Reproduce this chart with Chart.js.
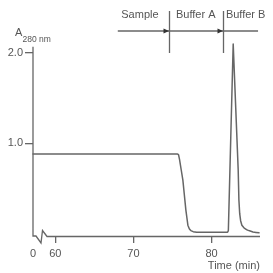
<!DOCTYPE html>
<html>
<head>
<meta charset="utf-8">
<script src="https://cdn.jsdelivr.net/npm/chart.js@4/dist/chart.umd.min.js"></script>
<style>
html,body{margin:0;padding:0;background:#fff;}
canvas{display:block;}
</style>
</head>
<body>
<canvas id="c" width="273" height="273"></canvas>
<script>
// ---- data ----
const timeMin = [57.15, 75.65, 75.78, 75.90, 76.33, 76.71, 76.97, 77.15, 77.35, 77.65, 78.10, 82.05, 82.15, 82.77, 83.41, 83.50, 83.60, 83.72, 83.88, 84.15, 84.60, 85.30, 86.07];
const a280    = [0.88,  0.88,  0.87,  0.82,  0.59,  0.26,  0.09,  0.05,  0.03,  0.018, 0.012, 0.012, 0.03,  2.10,  0.70,  0.37,  0.22,  0.14,  0.09,  0.06,  0.035, 0.015, 0.005];
const xTickValues = [57.15, 60, 70, 80];
const xTickLabels = ['0', '60', '70', '80'];
const yTickValues = [1.0, 2.0];
const phaseLabels = ['Sample', 'Buffer A', 'Buffer B'];
const phaseStart = 68.0;      // arrow start (min)
const phaseBoundaries = [74.5, 81.45];
const phaseEnd = 85.95;

const X_MIN = 57.15, X_MAX = 86.2, Y_MIN = -0.03, Y_MAX = 2.1;
const GRAY = '#666';
const TEXT = '#555';
const FONT = '"Liberation Sans", Arial, sans-serif';

const points = timeMin.map((t, i) => ({x: t, y: a280[i]}));

const decor = {
  id: 'decor',
  afterDraw(chart) {
    const ctx = chart.ctx;
    const xs = chart.scales.x, ys = chart.scales.y;
    const ca = chart.chartArea;
    ctx.save();
    ctx.strokeStyle = GRAY;
    ctx.lineWidth = 1.3;
    ctx.lineJoin = 'miter';
    // axes with break
    const L = ca.left, B = ca.bottom;
    ctx.beginPath();
    ctx.moveTo(L, ys.getPixelForValue(2.07));
    ctx.lineTo(L, B);
    ctx.lineTo(L + 3, B);
    ctx.lineTo(L + 8, B + 7);
    ctx.lineTo(L + 9.5, B - 5.5);
    ctx.lineTo(L + 14, B + 0.5);
    ctx.lineTo(ca.right, B + 0.5);
    ctx.stroke();

    // phase annotations
    const yArrow = 31;
    ctx.beginPath();
    ctx.moveTo(xs.getPixelForValue(phaseStart), yArrow);
    ctx.lineTo(xs.getPixelForValue(phaseEnd), yArrow);
    ctx.stroke();
    phaseBoundaries.forEach(b => {
      const px = Math.round(xs.getPixelForValue(b)) + 0.5;
      ctx.beginPath();
      ctx.moveTo(px, 11);
      ctx.lineTo(px, 53);
      ctx.stroke();
      ctx.fillStyle = '#333';
      ctx.beginPath();
      ctx.moveTo(px - 0.5, yArrow);
      ctx.lineTo(px - 6, yArrow - 2.5);
      ctx.lineTo(px - 6, yArrow + 2.5);
      ctx.closePath();
      ctx.fill();
    });
    ctx.fillStyle = TEXT;
    ctx.font = '11px ' + FONT;
    ctx.textBaseline = 'alphabetic';
    const b0 = xs.getPixelForValue(phaseBoundaries[0]);
    const b1 = xs.getPixelForValue(phaseBoundaries[1]);
    ctx.textAlign = 'right';
    ctx.fillText(phaseLabels[0], b0 - 10, 18);
    ctx.textAlign = 'center';
    ctx.fillText(phaseLabels[1], (b0 + b1) / 2, 18);
    ctx.textAlign = 'left';
    ctx.fillText(phaseLabels[2], b1 + 3, 18);

    // y axis title A280 nm
    ctx.textAlign = 'left';
    ctx.font = '11px ' + FONT;
    ctx.fillText('A', 15, 36);
    ctx.font = '8.5px ' + FONT;
    ctx.fillText('280 nm', 22.5, 42);
    ctx.restore();
  }
};

new Chart(document.getElementById('c'), {
  type: 'line',
  data: {
    datasets: [{
      data: points,
      borderColor: GRAY,
      borderWidth: 1.5,
      borderJoinStyle: 'round',
      borderCapStyle: 'round',
      pointRadius: 0,
      tension: 0.001,
      fill: false,
      clip: false
    }]
  },
  options: {
    responsive: false,
    animation: false,
    devicePixelRatio: 1,
    layout: {padding: {left: 0, right: 13, top: 44, bottom: 0}},
    plugins: {legend: {display: false}, tooltip: {enabled: false}},
    scales: {
      x: {
        type: 'linear',
        min: X_MIN, max: X_MAX,
        afterBuildTicks: s => { s.ticks = xTickValues.map(v => ({value: v})); },
        afterFit: s => { s.height = 37; },
        border: {display: false},
        grid: {
          drawOnChartArea: false,
          tickLength: 7,
          color: c => (c.tick && c.tick.value === X_MIN) ? 'rgba(0,0,0,0)' : GRAY,
          lineWidth: 1.3
        },
        ticks: {
          autoSkip: false, maxRotation: 0, padding: 4,
          color: TEXT, font: {family: FONT, size: 11},
          callback: v => { const i = xTickValues.indexOf(v); return i >= 0 ? xTickLabels[i] : ''; }
        },
        title: {
          display: true, text: 'Time (min)', align: 'end',
          color: TEXT, font: {family: FONT, size: 11}, padding: {top: 0, bottom: 0}
        }
      },
      y: {
        type: 'linear',
        min: Y_MIN, max: Y_MAX,
        afterBuildTicks: s => { s.ticks = yTickValues.map(v => ({value: v})); },
        afterFit: s => { s.width = 33; },
        border: {display: false},
        grid: {drawOnChartArea: false, tickLength: 8, color: GRAY, lineWidth: 1.3},
        ticks: {
          padding: 2, color: TEXT, font: {family: FONT, size: 11},
          callback: v => Number(v).toFixed(1)
        }
      }
    }
  },
  plugins: [decor]
});
</script>
</body>
</html>
